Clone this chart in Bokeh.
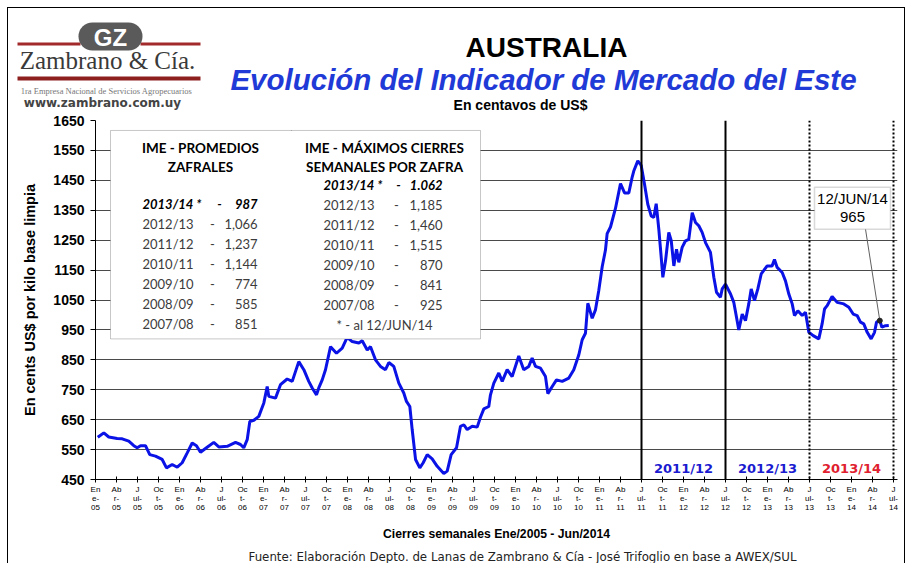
from bokeh.plotting import figure
from bokeh.layouts import column
from bokeh.models import Range1d, FixedTicker, Span, Label, BoxAnnotation
from bokeh.embed import file_html
from bokeh.resources import INLINE

# ---------------- data ----------------
anio = [2005.027, 2005.099, 2005.158, 2005.258, 2005.318, 2005.396, 2005.456, 2005.496, 2005.536, 2005.595,
        2005.646, 2005.714, 2005.794, 2005.845, 2005.913, 2005.973, 2006.032, 2006.092, 2006.151, 2006.202,
        2006.250, 2006.321, 2006.408, 2006.468, 2006.568, 2006.667, 2006.726, 2006.765, 2006.806, 2006.837,
        2006.885, 2006.944, 2007.004, 2007.044, 2007.063, 2007.143, 2007.202, 2007.282, 2007.342, 2007.420,
        2007.480, 2007.539, 2007.580, 2007.631, 2007.658, 2007.699, 2007.738, 2007.798, 2007.869, 2007.937,
        2007.996, 2008.056, 2008.135, 2008.175, 2008.235, 2008.274, 2008.333, 2008.393, 2008.452, 2008.492,
        2008.551, 2008.611, 2008.670, 2008.702, 2008.742, 2008.770, 2008.810, 2008.861, 2008.901, 2008.949,
        2009.008, 2009.068, 2009.146, 2009.187, 2009.234, 2009.298, 2009.345, 2009.385, 2009.425, 2009.485,
        2009.544, 2009.583, 2009.623, 2009.682, 2009.702, 2009.742, 2009.801, 2009.842, 2009.901, 2009.960,
        2010.039, 2010.098, 2010.158, 2010.198, 2010.238, 2010.298, 2010.357, 2010.385, 2010.437, 2010.488,
        2010.556, 2010.635, 2010.694, 2010.754, 2010.794, 2010.833, 2010.861, 2010.913, 2010.952, 2010.992,
        2011.032, 2011.071, 2011.091, 2011.131, 2011.190, 2011.250, 2011.298, 2011.349, 2011.389, 2011.408,
        2011.456, 2011.496, 2011.536, 2011.575, 2011.615, 2011.646, 2011.675, 2011.706, 2011.735, 2011.754,
        2011.786, 2011.825, 2011.854, 2011.885, 2011.917, 2011.944, 2011.984, 2012.024, 2012.063, 2012.104,
        2012.143, 2012.182, 2012.222, 2012.262, 2012.321, 2012.361, 2012.393, 2012.440, 2012.461, 2012.500,
        2012.560, 2012.599, 2012.631, 2012.658, 2012.699, 2012.738, 2012.777, 2012.806, 2012.845, 2012.885,
        2012.925, 2012.996, 2013.055, 2013.083, 2013.115, 2013.175, 2013.214, 2013.254, 2013.294, 2013.321,
        2013.361, 2013.413, 2013.452, 2013.492, 2013.544, 2013.611, 2013.650, 2013.679, 2013.710, 2013.769,
        2013.829, 2013.908, 2013.968, 2014.020, 2014.067, 2014.107, 2014.146, 2014.187, 2014.234, 2014.274,
        2014.298, 2014.337, 2014.362, 2014.405, 2014.444]
ime = [591, 606, 592, 587, 586, 578, 563, 556, 563, 563,
       533, 528, 517, 489, 500, 491, 506, 539, 572, 563,
       541, 556, 574, 559, 561, 574, 567, 556, 583, 644,
       648, 661, 706, 761, 728, 722, 767, 786, 778, 844,
       817, 778, 756, 733, 756, 783, 817, 894, 872, 889,
       925, 911, 906, 914, 883, 894, 850, 828, 817, 841,
       828, 772, 739, 711, 694, 617, 517, 489, 506, 533,
       519, 494, 470, 478, 533, 556, 628, 633, 617, 628,
       625, 658, 686, 694, 733, 772, 806, 778, 817, 794,
       863, 817, 828, 856, 828, 822, 794, 737, 761, 783,
       778, 789, 817, 867, 917, 939, 1039, 989, 1017, 1083,
       1161, 1217, 1272, 1294, 1356, 1439, 1408, 1408, 1461, 1481,
       1515, 1500, 1437, 1370, 1331, 1326, 1372, 1287, 1192, 1126,
       1181, 1276, 1248, 1164, 1220, 1176, 1226, 1248, 1253, 1342,
       1309, 1298, 1276, 1242, 1209, 1126, 1076, 1059, 1087, 1103,
       1070, 1042, 992, 950, 1003, 981, 1037, 1087, 1048, 1087,
       1137, 1164, 1164, 1185, 1159, 1142, 1114, 1070, 1037, 998,
       1014, 998, 1009, 942, 931, 920, 970, 1020, 1031, 1062,
       1042, 1037, 1026, 1003, 998, 976, 970, 942, 920, 942,
       976, 981, 959, 964, 965]

y_ticks = [450, 550, 650, 750, 850, 950, 1050, 1150, 1250, 1350, 1450, 1550, 1650]
tick_anios = ["05", "06", "07", "08", "09", "10", "11", "12", "13", "14"]
tick_meses = ["En\ne-", "Ab\nr-", "J\nul-", "Oc\nt-"]

inicio_zafras = [2011.5, 2012.5, 2013.5, 2014.5]
zafras = ["2011/12", "2012/13", "2013/14"]
zafra_centro = [2012.0, 2013.0, 2014.0]
zafra_color = ["#1a1ad0", "#1a1ad0", "#e0202e"]

prom_zafra = ["2013/14 *", "2012/13", "2011/12", "2010/11", "2009/10", "2008/09", "2007/08"]
prom_valor = ["987", "1,066", "1,237", "1,144", "774", "585", "851"]
max_zafra = ["2013/14 *", "2012/13", "2011/12", "2010/11", "2009/10", "2008/09", "2007/08"]
max_valor = ["1.062", "1,185", "1,460", "1,515", "870", "841", "925"]

ultimo_fecha = "12/JUN/14"
ultimo_valor = "965"

# ---------------- layout geometry (page pixels) ----------------
LEFT, TOP = 8, 8          # content origin (after 7px margin + 1px frame)
W = 896
HEAD_B, MAIN_B, FOOT_B = 112, 515, 563
X0, PXY = 95.0, 84.0      # page x of Ene-05, pixels per year


def dx(px):
    return 2005 + (px - X0) / PXY


def dy(py):
    return 1650 - (py - 120) * 10.0 / 3.0


def blank_fig(y0, y1):
    f = figure(width=W, height=y1 - y0, output_backend="svg", toolbar_location=None,
               x_range=Range1d(LEFT, LEFT + W), y_range=Range1d(y1, y0),
               x_axis_location=None, y_axis_location=None, min_border=0)
    f.frame_align = False
    f.grid.visible = False
    f.outline_line_color = None
    f.background_fill_color = "white"
    f.border_fill_color = "white"
    return f


def lab(f, x, y, text, size, font="Liberation Sans", style="normal", color="black", align="center",
        level="annotation"):
    f.add_layout(Label(x=x, y=y, text=text, text_font=font, text_font_size=f"{size}px",
                       text_font_style=style, text_color=color, text_align=align,
                       text_baseline="middle", level=level))


def box(f, l, r, t, b, fill, line=None, lw=0, radius=0, level="annotation"):
    f.add_layout(BoxAnnotation(left=l, right=r, top=t, bottom=b, fill_color=fill,
                               fill_alpha=1 if fill else 0, line_color=line, line_width=lw,
                               border_radius=radius, level=level))


# ---------------- header ----------------
hp = blank_fig(TOP, HEAD_B)
box(hp, 17, 80, 42, 45, "#a32a2a")
box(hp, 140, 200, 42, 45, "#a32a2a")
box(hp, 78, 142, 22, 50, "#5a5a5a", radius=14)
box(hp, 17, 200, 76, 80, "#8e1f1f")
lab(hp, 110, 37, "GZ", 24, style="bold", color="white")
lab(hp, 107, 60, "Zambrano & Cía.", 25, font="Liberation Serif", color="#3a3a3a")
lab(hp, 106, 90, "1ra Empresa Nacional de Servicios Agropecuarios", 8.5, font="Liberation Serif", color="#777777")
lab(hp, 102, 102, "www.zambrano.com.uy", 12, font="DejaVu Sans", style="bold", color="#444444")
lab(hp, 546, 47, "AUSTRALIA", 28, style="bold")
lab(hp, 543, 79, "Evolución del Indicador de Mercado del Este", 29.5, style="bold italic", color="#1f3ad6")
lab(hp, 520, 104, "En centavos de US$", 14, style="bold")

# ---------------- main chart ----------------
p = figure(width=W, height=MAIN_B - HEAD_B, output_backend="svg", toolbar_location=None,
           x_range=Range1d(2005, dx(897)), y_range=Range1d(450, 1650),
           min_border_left=95 - LEFT, min_border_right=LEFT + W - 897,
           min_border_top=120 - HEAD_B, min_border_bottom=MAIN_B - 480)
p.frame_align = False
p.outline_line_color = None
p.background_fill_color = "white"
p.border_fill_color = "white"
p.xgrid.grid_line_color = None
p.ygrid.grid_line_color = "#4a4a4a"
p.ygrid.grid_line_width = 1

p.yaxis.ticker = FixedTicker(ticks=y_ticks)
p.yaxis.major_label_text_font = "Liberation Sans"
p.yaxis.major_label_text_font_size = "14px"
p.yaxis.major_label_text_font_style = "bold"
p.yaxis.major_label_text_color = "black"
p.yaxis.major_tick_out = 5
p.yaxis.major_tick_in = 0
p.yaxis.minor_tick_line_color = None
p.yaxis.major_label_standoff = 6
p.yaxis.axis_line_color = "black"
p.yaxis.major_tick_line_color = "black"
p.yaxis.axis_label = "En cents US$ por kilo base limpia"
p.yaxis.axis_label_text_font = "Liberation Sans"
p.yaxis.axis_label_text_font_size = "14.5px"
p.yaxis.axis_label_text_font_style = "bold"
p.yaxis.axis_label_text_color = "black"
p.yaxis.axis_label_standoff = 12

xt = []
overrides = {}
for i, a in enumerate(tick_anios):
    for q, m in enumerate(tick_meses):
        t = 2005 + i + q * 0.25
        if t <= 2014.5 + 1e-9:
            xt.append(t)
            overrides[t] = m + "\n" + a
p.xaxis.ticker = FixedTicker(ticks=xt)
p.xaxis.major_label_overrides = overrides
p.xaxis.major_label_text_font = "Liberation Sans"
p.xaxis.major_label_text_font_size = "8px"
p.xaxis.major_label_text_color = "black"
p.xaxis.major_label_text_line_height = 1.05
p.xaxis.major_tick_in = 3
p.xaxis.major_tick_out = 3
p.xaxis.minor_tick_line_color = None
p.xaxis.major_label_standoff = 2
p.xaxis.axis_line_color = "black"

for i, s in enumerate(inicio_zafras):
    p.add_layout(Span(location=s, dimension="height", line_color="black", line_width=2,
                      line_dash="solid" if i < 2 else "2 2"))

p.line(anio, ime, line_color="#0a12e6", line_width=3)

for z, c, col in zip(zafras, zafra_centro, zafra_color):
    p.add_layout(Label(x=c, y=dy(469), text=z, text_font="DejaVu Sans", text_font_size="13px",
                       text_font_style="bold", text_color=col, text_align="center",
                       text_baseline="middle"))

# table
box(p, dx(110), dx(480), dy(130), dy(339), "white", line="#444444", lw=1, level="overlay")
p.segment(x0=[dx(291)], y0=[dy(130)], x1=[dx(291)], y1=[dy(339)], line_color="#444444", line_width=1,
          level="overlay")
p.segment(x0=[dx(143), dx(168), dx(306), dx(305)], y0=[dy(156), dy(175), dy(156), dy(175)],
          x1=[dx(257), dx(230), dx(462), dx(462)], y1=[dy(156), dy(175), dy(156), dy(175)],
          line_color="black", line_width=1, level="overlay")


def tlab(px, py, text, style="normal", align="left", color="#3c3c3c", size=13):
    lab(p, dx(px), dy(py), text, size, font="Lato", style=style, color=color, align=align, level="overlay")


tlab(200, 148, "IME - PROMEDIOS", "bold", "center", "black", 13.5)
tlab(200, 167, "ZAFRALES", "bold", "center", "black", 13.5)
tlab(384, 148, "IME - MÁXIMOS CIERRES", "bold", "center", "black", 13.5)
tlab(384, 167, "SEMANALES POR ZAFRA", "bold", "center", "black", 13.5)
for i, (z, v) in enumerate(zip(prom_zafra, prom_valor)):
    st = "bold italic" if i == 0 else "normal"
    col = "black" if i == 0 else "#3c3c3c"
    yy = 204 + 20 * i
    tlab(142, yy, z, st, "left", col)
    tlab(219 if i == 0 else 212, yy, "-", st, "center", col)
    tlab(257, yy, v, st, "right", col)
for i, (z, v) in enumerate(zip(max_zafra, max_valor)):
    st = "bold italic" if i == 0 else "normal"
    col = "black" if i == 0 else "#3c3c3c"
    yy = 185 + 20 * i
    tlab(323, yy, z, st, "left", col)
    tlab(398 if i == 0 else 396, yy, "-", st, "center", col)
    tlab(442, yy, v, st, "right", col)
tlab(384, 325, "* - al " + ultimo_fecha, "normal", "center", "#3c3c3c")

# last value callout
p.segment(x0=[dx(865)], y0=[dy(229)], x1=[anio[-4]], y1=[ime[-4]], line_color="#606060", line_width=1)
p.scatter([anio[-4]], [ime[-4]], size=5, color="#222222")
box(p, dx(814), dx(890), dy(187), dy(229), "white", line="#808080", lw=1.5)
lab(p, dx(852), dy(198), ultimo_fecha, 15)
lab(p, dx(852), dy(217), ultimo_valor, 15)

# ---------------- footer ----------------
fp = blank_fig(MAIN_B, FOOT_B)
lab(fp, 496, 533, "Cierres semanales Ene/2005 - Jun/2014", 12.2, style="bold")
lab(fp, 522, 556, "Fuente: Elaboración Depto. de Lanas de Zambrano & Cía - José Trifoglio en base a AWEX/SUL",
    11.8, font="DejaVu Sans", color="#222222")

layout = column(hp, p, fp, spacing=0,
                styles={"margin-left": "7px", "margin-top": "7px", "border-style": "solid",
                        "border-color": "black", "border-width": "1px 1px 0px 1px",
                        "box-sizing": "content-box"})

open("out.html", "w").write(file_html(layout, INLINE))
